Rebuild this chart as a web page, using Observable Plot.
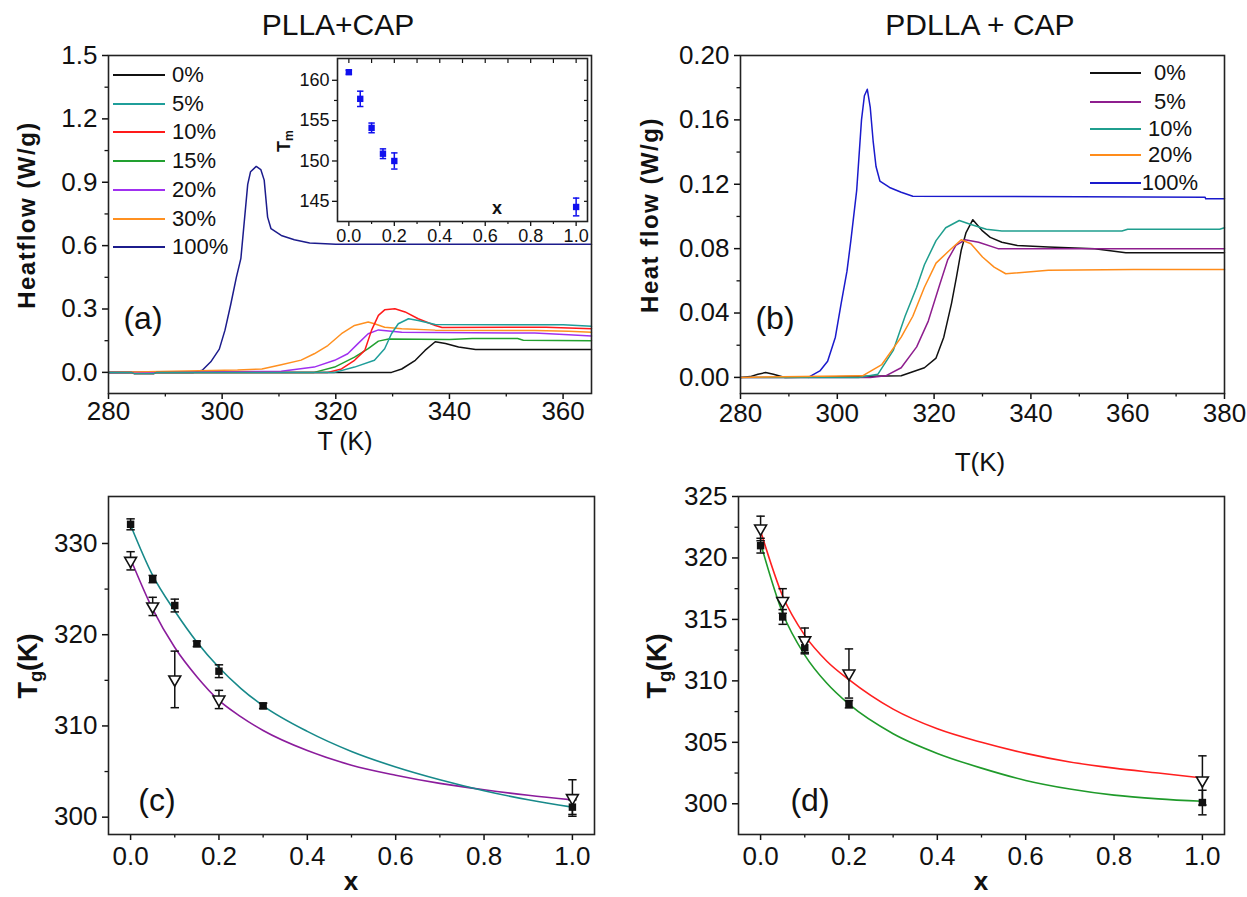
<!DOCTYPE html>
<html><head><meta charset="utf-8">
<script src="https://cdn.jsdelivr.net/npm/d3@7"></script>
<script src="https://cdn.jsdelivr.net/npm/@observablehq/plot@0.6"></script>
<style>
body{margin:0;background:#fff;}
#root{position:relative;width:1247px;height:897px;overflow:hidden;font-family:"Liberation Sans",Arial,sans-serif;color:#111;}
.t{position:absolute;white-space:nowrap;transform:translate(-50%,-50%);line-height:1;}
.rot{transform:translate(-50%,-50%) rotate(-90deg);}
.lg{position:absolute;height:2px;}
.lt{position:absolute;white-space:nowrap;transform:translateY(-50%);line-height:1;font-size:22px;}
sub{font-size:68%;vertical-align:-0.25em;}
</style></head><body><div id="root"></div>
<script>
// ---------- Panel (a): PLLA+CAP heat flow ----------
const aNames = ["0%","5%","10%","15%","20%","30%","100%"];
const aColors = ["#111111","#1f9e9a","#ff1a1a","#22a030","#a030f0","#ff9020","#1c1c8c"];
const aT0 = [280,329.8,331.6,334,335.7,337.5,339.3,341.6,344.6,365];
const aV0 = [0,0,0.016,0.057,0.104,0.145,0.137,0.12,0.108,0.108];
const aT5 = [280,284,284.5,288,288.5,319.8,323.3,326.8,328.6,329.8,331,332.8,334.5,337.5,360,365];
const aV5 = [0,0,-0.006,-0.006,0,0,0.025,0.057,0.112,0.183,0.23,0.254,0.246,0.227,0.225,0.218];
const aT10 = [280,284,284.5,288,288.5,318.6,321,323.3,325.1,326.3,327.5,328.6,330.4,332.2,334.5,337.5,338.7,357,365];
const aV10 = [0,0,-0.006,-0.006,0,0,0.016,0.057,0.104,0.2,0.27,0.296,0.301,0.286,0.254,0.222,0.212,0.214,0.207];
const aT15 = [280,316.2,319.8,323.3,325.7,327.5,329.3,340,344,352,353,365];
const aV15 = [0,0,0.025,0.072,0.112,0.148,0.158,0.156,0.16,0.16,0.152,0.15];
const aT20 = [280,310.4,316.2,319.8,322.1,323.9,325.7,327.5,331.6,355,361,365];
const aV20 = [0,0.005,0.025,0.057,0.088,0.136,0.183,0.201,0.19,0.186,0.178,0.172];
const aT30 = [280,302.7,307,310.4,313.9,316.2,318.6,321,323.3,325.7,326.8,328.6,331.6,337.5,355,361,365];
const aV30 = [0,0.011,0.016,0.036,0.058,0.088,0.127,0.183,0.222,0.238,0.23,0.214,0.206,0.2,0.198,0.195,0.19];
const aT100 = [280,295,296.5,298,299.5,300.5,301.5,302.5,303.3,304.5,305,306,306.8,307.4,308,308.6,310.4,312.7,315.4,320,365];
const aV100 = [0,0,0.01,0.05,0.11,0.2,0.32,0.45,0.54,0.89,0.95,0.975,0.96,0.91,0.735,0.68,0.648,0.628,0.612,0.607,0.607];
const aXTicks = [280,300,320,340,360];
const aXMinor = [290,310,330,350];
const aYTicks = [0,0.3,0.6,0.9,1.2,1.5];
const aYMinor = [0.15,0.45,0.75,1.05,1.35];

// ---------- Inset: Tm vs x ----------
const tmX = [0,0.05,0.1,0.15,0.2,1.0];
const tmY = [161.0,157.7,154.1,150.9,150.0,144.3];
const tmE = [0.25,0.95,0.6,0.6,1.0,1.1];
const inXTicks = [0,0.2,0.4,0.6,0.8,1.0];
const inXMinor = [0.1,0.3,0.5,0.7,0.9];
const inYTicks = [145,150,155,160];
const inYMinor = [147.5,152.5,157.5];

// ---------- Panel (b): PDLLA + CAP heat flow ----------
const bNames = ["0%","5%","10%","20%","100%"];
const bColors = ["#111111","#8e1e8e","#1f9e8e","#ff8c1a","#1a1acc"];
const bT0 = [280,282,283.6,285.2,286.8,289.2,313.2,318,320.4,322,323.6,324.6,325.6,326.6,328,330,331.6,334,337.2,343.6,353.2,359.6,380];
const bV0 = [0,0.0005,0.002,0.003,0.002,0,0.001,0.006,0.012,0.025,0.046,0.062,0.079,0.09,0.098,0.091,0.087,0.084,0.082,0.081,0.08,0.0775,0.0775];
const bT5 = [280,306.8,310,313.2,316.4,318.8,321.2,322.8,324.5,326.4,329.2,333.2,380];
const bV5 = [0,0,0.001,0.006,0.019,0.035,0.058,0.073,0.082,0.0855,0.084,0.08,0.08];
const bT10 = [280,304.4,308.4,311.6,314,316.4,318,320.4,322.4,325.2,327.6,330.8,334,358.8,360,379,380];
const bV10 = [0,0,0.002,0.017,0.038,0.056,0.07,0.085,0.093,0.0975,0.095,0.092,0.091,0.091,0.092,0.092,0.093];
const bT20 = [280,305.2,309.2,313.2,315.6,318,320.4,323.2,325.6,327.6,330,332.4,334.8,343.6,361.2,380];
const bV20 = [0,0.001,0.008,0.025,0.038,0.056,0.071,0.079,0.0855,0.083,0.0748,0.0685,0.0644,0.0665,0.067,0.067];
const bT100 = [294,296.4,298,299.6,300.8,302,302.8,304,305,305.6,306.2,306.8,307.4,308,308.8,310.8,313.2,315.6,376,376.1,380];
const bV100 = [0,0.004,0.01,0.025,0.046,0.066,0.085,0.116,0.16,0.175,0.179,0.168,0.147,0.131,0.122,0.118,0.115,0.1125,0.112,0.111,0.111];
const bXTicks = [280,300,320,340,360,380];
const bXMinor = [290,310,330,350,370];
const bYTicks = [0,0.04,0.08,0.12,0.16,0.2];
const bYMinor = [0.02,0.06,0.1,0.14,0.18];

// ---------- Panel (c): Tg PLLA+CAP ----------
const cSqX = [0,0.05,0.1,0.15,0.2,0.3,1.0];
const cSqY = [332.1,326.1,323.2,319.0,316.0,312.2,301.1];
const cSqE = [0.6,0.4,0.7,0.3,0.7,0.3,0.8];
const cTrX = [0,0.05,0.1,0.2,1.0];
const cTrY = [328.1,323.1,315.1,312.9,302.1];
const cTrE = [1.0,1.0,3.1,1.0,2.0];
const cFitX = [0,0.05,0.1,0.15,0.2,0.25,0.3,0.4,0.5,0.6,0.7,0.8,0.9,1.0];
const cFitTeal = [332.0,326.5,322.6,319.2,316.4,314.1,312.2,309.4,307.2,305.5,304.1,302.9,301.9,301.1];
const cFitPurple = [328.3,322.8,318.6,315.4,312.8,311.0,309.5,307.3,305.7,304.6,303.7,303.0,302.4,301.9];
const cXTicks = [0,0.2,0.4,0.6,0.8,1.0];
const cXMinor = [0.1,0.3,0.5,0.7,0.9];
const cYTicks = [300,310,320,330];
const cYMinor = [305,315,325];

// ---------- Panel (d): Tg PDLLA+CAP ----------
const dSqX = [0,0.05,0.1,0.2,1.0];
const dSqY = [321.0,315.2,312.7,308.1,300.1];
const dSqE = [0.6,0.6,0.5,0.3,1.0];
const dTrX = [0,0.05,0.1,0.2,1.0];
const dTrY = [322.4,316.5,313.3,310.6,301.9];
const dTrE = [1.0,1.0,1.0,2.0,2.0];
const dFitX = [0,0.05,0.1,0.15,0.2,0.3,0.4,0.5,0.6,0.7,0.8,0.9,1.0];
const dFitRed = [322.2,316.9,313.7,311.6,310.1,307.7,306.1,305.0,304.1,303.4,302.9,302.5,302.1];
const dFitGreen = [321.2,315.5,312.1,309.8,308.1,305.7,304.1,302.9,301.9,301.2,300.7,300.4,300.2];
const dXTicks = [0,0.2,0.4,0.6,0.8,1.0];
const dXMinor = [0.1,0.3,0.5,0.7,0.9];
const dYTicks = [300,305,310,315,320,325];
const dYMinor = [302.5,307.5,312.5,317.5,322.5];

// ---------- helpers ----------
const root = document.getElementById("root");
const FONT = "'Liberation Sans', Arial, sans-serif";
const rows = (X, Y) => X.map((x, i) => ({x, y: Y[i]}));
const errRows = (X, Y, E) => X.map((x, i) => ({x, y: Y[i], lo: Y[i] - E[i], hi: Y[i] + E[i]}));
const cap = {draw(ctx, size){ const w = Math.sqrt(size / Math.PI); ctx.moveTo(-w, 0); ctx.lineTo(w, 0); }};
const blank = () => "";
function place(el, left, top){ el.style.position = "absolute"; el.style.left = left + "px"; el.style.top = top + "px"; root.appendChild(el); }
function text(html, cx, cy, size, opts = {}){
  const d = document.createElement("div");
  d.className = "t" + (opts.rot ? " rot" : "");
  d.innerHTML = html;
  d.style.left = cx + "px"; d.style.top = cy + "px";
  d.style.fontSize = size + "px";
  if (opts.bold) d.style.fontWeight = "bold";
  if (opts.ls) d.style.letterSpacing = opts.ls + "px";
  root.appendChild(d);
}
function legend(names, colors, ys, x1, x2, tx, center){
  names.forEach((n, i) => {
    const l = document.createElement("div");
    l.className = "lg"; l.style.left = x1 + "px"; l.style.width = (x2 - x1) + "px";
    l.style.top = (ys[i] - 1) + "px"; l.style.background = colors[i];
    root.appendChild(l);
    const t = document.createElement("div");
    t.className = "lt"; t.textContent = n; t.style.top = ys[i] + "px";
    t.style.left = tx + "px";
    if (center) t.style.transform = "translate(-50%,-50%)";
    root.appendChild(t);
  });
}
function axes(o){
  return [
    Plot.axisX({ticks: o.xt, tickSize: 6, tickPadding: o.xpad, tickFormat: o.xf, label: null, strokeWidth: 1.5}),
    Plot.axisX({ticks: o.xm, tickSize: 3.5, tickFormat: blank, label: null, strokeWidth: 1.3}),
    Plot.axisY({ticks: o.yt, tickSize: 6, tickPadding: o.ypad, tickFormat: o.yf, label: null, strokeWidth: 1.5}),
    Plot.axisY({ticks: o.ym, tickSize: 3.5, tickFormat: blank, label: null, strokeWidth: 1.3}),
    Plot.frame({stroke: "#222", strokeWidth: 1.6})
  ];
}
const baseStyle = {fontSize: "26px", fontFamily: FONT, color: "#111", background: "transparent", overflow: "visible"};

// ---------- Panel (a) ----------
const aT = [aT0,aT5,aT10,aT15,aT20,aT30,aT100];
const aV = [aV0,aV5,aV10,aV15,aV20,aV30,aV100];
const aOrder = [6,0,3,4,5,2,1];
const pa = Plot.plot({
  width: 620, height: 460, marginLeft: 108, marginRight: 29, marginTop: 55, marginBottom: 67,
  x: {domain: [280, 365]}, y: {domain: [-0.1, 1.5]},
  style: baseStyle,
  marks: [
    ...aOrder.map(i => Plot.line(rows(aT[i], aV[i]), {x: "x", y: "y", stroke: aColors[i], strokeWidth: 1.5})),
    ...axes({xt: aXTicks, xm: aXMinor, yt: aYTicks, ym: aYMinor, xf: d3.format("d"), yf: d3.format(".1f"), xpad: 2, ypad: 5})
  ]
});
place(pa, 0, 0);

// ---------- Inset ----------
const tmRows = errRows(tmX, tmY, tmE);
const pin = Plot.plot({
  width: 345, height: 215, marginLeft: 87, marginRight: 8, marginTop: 13, marginBottom: 39,
  x: {domain: [-0.05, 1.05]}, y: {domain: [142.5, 162.7]},
  style: {...baseStyle, fontSize: "18px"},
  marks: [
    Plot.ruleX(tmRows, {x: "x", y1: "lo", y2: "hi", stroke: "#1010ee", strokeWidth: 1.5}),
    Plot.dot(tmRows, {x: "x", y: "lo", symbol: cap, r: 3.2, stroke: "#1010ee", strokeWidth: 1.5}),
    Plot.dot(tmRows, {x: "x", y: "hi", symbol: cap, r: 3.2, stroke: "#1010ee", strokeWidth: 1.5}),
    Plot.dot(tmRows, {x: "x", y: "y", symbol: "square", r: 3.6, fill: "#1010ee"}),
    Plot.axisX({ticks: inXTicks, tickSize: 5, tickPadding: 3, tickFormat: d3.format(".1f"), label: null, strokeWidth: 1.3}),
    Plot.axisX({ticks: inXMinor, tickSize: 3, tickFormat: blank, label: null, strokeWidth: 1.2}),
    Plot.axisX({anchor: "top", ticks: inXTicks.concat(inXMinor), tickSize: -4, tickFormat: blank, label: null, strokeWidth: 1.2}),
    Plot.axisY({ticks: inYTicks, tickSize: 5, tickPadding: 3, tickFormat: d3.format("d"), label: null, strokeWidth: 1.3}),
    Plot.axisY({ticks: inYMinor, tickSize: 3, tickFormat: blank, label: null, strokeWidth: 1.2}),
    Plot.axisY({anchor: "right", ticks: inYTicks.concat(inYMinor), tickSize: -4, tickFormat: blank, label: null, strokeWidth: 1.2}),
    Plot.frame({stroke: "#222", strokeWidth: 1.6})
  ]
});
place(pin, 250, 45);

// ---------- Panel (b) ----------
const bT = [bT0,bT5,bT10,bT20,bT100];
const bV = [bV0,bV5,bV10,bV20,bV100];
const bOrder = [4,0,1,2,3];
const pb = Plot.plot({
  width: 627, height: 480, marginLeft: 120, marginRight: 23, marginTop: 55, marginBottom: 87,
  x: {domain: [280, 380]}, y: {domain: [-0.01, 0.2]},
  style: baseStyle,
  marks: [
    ...bOrder.map(i => Plot.line(rows(bT[i], bV[i]), {x: "x", y: "y", stroke: bColors[i], strokeWidth: 1.5})),
    ...axes({xt: bXTicks, xm: bXMinor, yt: bYTicks, ym: bYMinor, xf: d3.format("d"), yf: d3.format(".2f"), xpad: 4, ypad: 5})
  ]
});
place(pb, 620, 0);

// ---------- Panel (c) ----------
const cSq = errRows(cSqX, cSqY, cSqE);
const cTr = errRows(cTrX, cTrY, cTrE);
function tgMarks(sq, tr){
  const m = [];
  for (const d of [tr, sq]) {
    m.push(Plot.ruleX(d, {x: "x", y1: "lo", y2: "hi", stroke: "#111", strokeWidth: 1.5}));
    m.push(Plot.dot(d, {x: "x", y: "lo", symbol: cap, r: 4.2, stroke: "#111", strokeWidth: 1.5}));
    m.push(Plot.dot(d, {x: "x", y: "hi", symbol: cap, r: 4.2, stroke: "#111", strokeWidth: 1.5}));
  }
  m.push(Plot.dot(sq, {x: "x", y: "y", symbol: "square", r: 4.2, fill: "#111"}));
  m.push(Plot.dot(tr, {x: "x", y: "y", symbol: "triangle", rotate: 180, r: 4.4, fill: "white", stroke: "#111", strokeWidth: 1.6}));
  return m;
}
const pc = Plot.plot({
  width: 620, height: 437, marginLeft: 108, marginRight: 26, marginTop: 36, marginBottom: 63,
  x: {domain: [-0.05, 1.05]}, y: {domain: [298.1, 335.15]},
  style: baseStyle,
  marks: [
    Plot.line(rows(cFitX, cFitPurple), {x: "x", y: "y", stroke: "#8b1c9c", strokeWidth: 1.6, curve: "monotone-x"}),
    Plot.line(rows(cFitX, cFitTeal), {x: "x", y: "y", stroke: "#17898a", strokeWidth: 1.6, curve: "monotone-x"}),
    ...tgMarks(cSq, cTr),
    ...axes({xt: cXTicks, xm: cXMinor, yt: cYTicks, ym: cYMinor, xf: d3.format(".1f"), yf: d3.format("d"), xpad: 6, ypad: 5})
  ]
});
place(pc, 0, 460);

// ---------- Panel (d) ----------
const dSq = errRows(dSqX, dSqY, dSqE);
const dTr = errRows(dTrX, dTrY, dTrE);
const pd = Plot.plot({
  width: 627, height: 437, marginLeft: 118, marginRight: 23, marginTop: 36, marginBottom: 63,
  x: {domain: [-0.05, 1.05]}, y: {domain: [297.5, 325]},
  style: baseStyle,
  marks: [
    Plot.line(rows(dFitX, dFitRed), {x: "x", y: "y", stroke: "#ff1f1f", strokeWidth: 1.6, curve: "monotone-x"}),
    Plot.line(rows(dFitX, dFitGreen), {x: "x", y: "y", stroke: "#1f9a2a", strokeWidth: 1.6, curve: "monotone-x"}),
    ...tgMarks(dSq, dTr),
    ...axes({xt: dXTicks, xm: dXMinor, yt: dYTicks, ym: dYMinor, xf: d3.format(".1f"), yf: d3.format("d"), xpad: 6, ypad: 5})
  ]
});
place(pd, 620, 460);

// ---------- Text ----------
text("PLLA+CAP", 338, 25, 30);
text("PDLLA + CAP", 980, 25, 30);
text("Heatflow (W/g)", 27, 215, 24, {rot: true, bold: true, ls: 1.5});
text("Heat flow (W/g)", 650, 215, 24, {rot: true, bold: true, ls: 1.5});
text("T (K)", 345, 441, 25);
text("T(K)", 980, 462, 26);
text("(a)", 143, 318, 32);
text("(b)", 775, 318, 32);
text("(c)", 157, 800, 32);
text("(d)", 810, 800, 32);
text("T<sub>g</sub>(K)", 30, 666, 27, {rot: true, bold: true});
text("T<sub>g</sub>(K)", 659, 666, 27, {rot: true, bold: true});
text("x", 351, 881, 26, {bold: true});
text("x", 981, 881, 26, {bold: true});
text("T<sub>m</sub>", 285, 141, 18, {rot: true, bold: true});
text("x", 497, 208, 18, {bold: true});

legend(aNames, aColors, [75,104,132,161,190,219,247], 113, 165, 172, false);
legend(bNames, bColors, [73,102,129,155,183], 1090, 1141, 1170, true);
</script></body></html>
